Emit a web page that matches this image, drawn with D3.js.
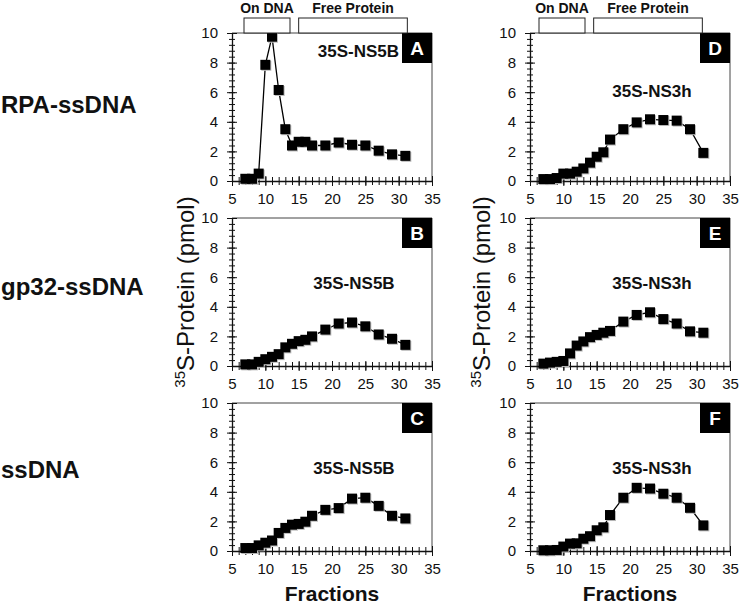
<!DOCTYPE html>
<html>
<head>
<meta charset="utf-8">
<script src="https://cdn.jsdelivr.net/npm/d3@7"></script>
<style>
body { margin: 0; background: #fff; }
text { font-family: "Liberation Sans", Arial, sans-serif; fill: #111; }
</style>
</head>
<body>
<svg id="chart" width="742" height="606"></svg>
<script>
// fractions collected
var fractions = [7, 8, 9, 10, 11, 12, 13, 14, 15, 16, 17, 19, 21, 23, 25, 27, 29, 31];

// 35S protein (pmol) per fraction
var ns5bRPA  = [0.15, 0.15, 0.5, 7.85, 9.75, 6.15, 3.5, 2.4, 2.65, 2.65, 2.4, 2.4, 2.6, 2.45, 2.4, 2.05, 1.8, 1.7];
var ns5bGp32 = [0.11, 0.11, 0.28, 0.46, 0.62, 0.8, 1.26, 1.5, 1.68, 1.77, 2.0, 2.46, 2.87, 2.94, 2.68, 2.13, 1.84, 1.43];
var ns5bSs   = [0.2, 0.2, 0.38, 0.56, 0.71, 1.22, 1.56, 1.78, 1.83, 1.98, 2.38, 2.78, 2.9, 3.54, 3.6, 3.05, 2.38, 2.2];
var ns3hRPA  = [0.13, 0.13, 0.2, 0.5, 0.5, 0.63, 0.85, 1.24, 1.64, 1.94, 2.8, 3.5, 3.96, 4.17, 4.12, 4.08, 3.5, 1.9];
var ns3hGp32 = [0.16, 0.23, 0.28, 0.34, 0.85, 1.38, 1.66, 1.95, 2.1, 2.25, 2.37, 3.0, 3.45, 3.63, 3.17, 2.87, 2.34, 2.25];
var ns3hSs   = [0.05, 0.05, 0.07, 0.3, 0.5, 0.52, 0.83, 1.0, 1.4, 1.6, 2.43, 3.6, 4.27, 4.22, 3.87, 3.6, 2.92, 1.73];

// tick labels
var xTicks = [5, 10, 15, 20, 25, 30, 35];
var yTicks = [0, 2, 4, 6, 8, 10];

// header bars (in fraction units)
var headerNames = ["On DNA", "Free Protein"];
var headerSpans = [[6.8, 13.7], [15.0, 31.3]];

var rowNames = ["RPA-ssDNA", "gp32-ssDNA", "ssDNA"];

var panels = [
  {letter: "A", name: "35S-NS5B", values: ns5bRPA,  col: 0, row: 0},
  {letter: "B", name: "35S-NS5B", values: ns5bGp32, col: 0, row: 1},
  {letter: "C", name: "35S-NS5B", values: ns5bSs,   col: 0, row: 2},
  {letter: "D", name: "35S-NS3h", values: ns3hRPA,  col: 1, row: 0},
  {letter: "E", name: "35S-NS3h", values: ns3hGp32, col: 1, row: 1},
  {letter: "F", name: "35S-NS3h", values: ns3hSs,   col: 1, row: 2}
];

// layout
var colX = [232, 530], rowY = [33, 218, 403];
var plotW = 200, plotH = 148;

var svg = d3.select("#chart");

// row labels on the far left
svg.selectAll(".rowlabel")
  .data(rowNames)
  .enter().append("text")
  .attr("class", "rowlabel")
  .attr("x", 1)
  .attr("y", function(d, i) { return [113, 295, 478][i]; })
  .style("font-size", "24px")
  .style("font-weight", "bold")
  .text(function(d) { return d; });

panels.forEach(function(p) {
  var left = colX[p.col], top = rowY[p.row];
  var g = svg.append("g").attr("transform", "translate(" + left + "," + top + ")");

  var x = d3.scaleLinear().domain([5, 35]).range([0, plotW]);
  var y = d3.scaleLinear().domain([0, 10]).range([plotH, 0]);

  // frame top + right
  g.append("path")
    .attr("d", "M0,0H" + plotW + "V" + plotH)
    .attr("fill", "none")
    .attr("stroke", "#444")
    .attr("stroke-width", 1);

  // minor ticks
  var yMinor = g.append("g")
    .call(d3.axisLeft(y).tickValues(d3.range(0, 10.01, 0.4)).tickSize(3).tickSizeOuter(0).tickFormat(""));
  yMinor.selectAll(".tick line").attr("x1", 3);
  yMinor.select(".domain").remove();

  var xMinor = g.append("g")
    .attr("transform", "translate(0," + plotH + ")")
    .call(d3.axisBottom(x).tickValues(d3.range(5, 35.01, 1)).tickSize(4).tickSizeOuter(0).tickFormat(""));
  xMinor.selectAll(".tick line").attr("y1", -4);
  xMinor.select(".domain").remove();

  // major ticks + labels
  var yAxis = g.append("g")
    .call(d3.axisLeft(y).tickValues(yTicks).tickSize(5).tickSizeOuter(0).tickPadding(9));
  yAxis.selectAll(".tick line").attr("x1", 5);
  yAxis.selectAll("text").style("font-size", "15px").attr("fill", "#111");

  var xAxis = g.append("g")
    .attr("transform", "translate(0," + plotH + ")")
    .call(d3.axisBottom(x).tickValues(xTicks).tickSize(5).tickSizeOuter(0).tickPadding(7));
  xAxis.selectAll(".tick line").attr("y1", -5);
  xAxis.selectAll("text").style("font-size", "15px").attr("fill", "#111");

  g.selectAll(".domain").attr("stroke", "#111").attr("stroke-width", 1.3);
  g.selectAll(".tick line").attr("stroke", "#111");

  // data line
  var pts = fractions.map(function(f, i) { return {f: f, v: p.values[i]}; });
  var line = d3.line()
    .x(function(d) { return x(d.f); })
    .y(function(d) { return y(d.v); });

  g.append("path")
    .datum(pts)
    .attr("fill", "none")
    .attr("stroke", "#000")
    .attr("stroke-width", 1.3)
    .attr("d", line);

  // square markers with soft shadow
  g.selectAll(".shadow")
    .data(pts)
    .enter().append("rect")
    .attr("class", "shadow")
    .attr("x", function(d) { return x(d.f) - 4; })
    .attr("y", function(d) { return y(d.v) - 4; })
    .attr("width", 10).attr("height", 10)
    .attr("fill", "#bbb");

  g.selectAll(".dot")
    .data(pts)
    .enter().append("rect")
    .attr("class", "dot")
    .attr("x", function(d) { return x(d.f) - 5; })
    .attr("y", function(d) { return y(d.v) - 5; })
    .attr("width", 10).attr("height", 10)
    .attr("fill", "#000");

  // panel letter box
  g.append("rect")
    .attr("x", plotW - 30).attr("y", 0)
    .attr("width", 30).attr("height", 30)
    .attr("fill", "#000");
  g.append("text")
    .attr("x", plotW - 15).attr("y", 22)
    .attr("text-anchor", "middle")
    .style("font-size", "19px")
    .style("font-weight", "bold")
    .style("fill", "#fff")
    .text(p.letter);

  // series name
  var nameText = g.append("text")
    .style("font-size", "17px")
    .style("font-weight", "bold")
    .text(p.name);
  if (p.letter == "A") {
    nameText.attr("x", plotW - 33).attr("y", 24).attr("text-anchor", "end");
  } else {
    nameText.attr("x", 122).attr("y", p.letter == "D" ? 64 : 71).attr("text-anchor", "middle");
  }

  // header bars on top row
  if (p.row == 0) {
    headerSpans.forEach(function(s, i) {
      g.append("rect")
        .attr("x", x(s[0]) + (p.col == 1 ? -3 : 0))
        .attr("y", -15)
        .attr("width", x(s[1]) - x(s[0]))
        .attr("height", 15)
        .attr("fill", "#fff")
        .attr("stroke", "#222")
        .attr("stroke-width", 1);
      g.append("text")
        .attr("x", (x(s[0]) + x(s[1])) / 2 + (p.col == 1 ? -3 : 0))
        .attr("y", -20)
        .attr("text-anchor", "middle")
        .style("font-size", "14px")
        .style("font-weight", "bold")
        .text(headerNames[i]);
    });
  }

  // x title under bottom row
  if (p.row == 2) {
    g.append("text")
      .attr("x", plotW / 2)
      .attr("y", 198)
      .attr("text-anchor", "middle")
      .style("font-size", "21px")
      .style("font-weight", "bold")
      .text("Fractions");
  }
});

// y titles
[[194, 292], [490, 292]].forEach(function(pos) {
  var t = svg.append("text")
    .attr("transform", "translate(" + pos[0] + "," + pos[1] + ") rotate(-90)")
    .attr("text-anchor", "middle")
    .style("font-size", "24px");
  t.append("tspan").attr("dy", -9).style("font-size", "15px").text("35");
  t.append("tspan").attr("dy", 9).text("S-Protein (pmol)");
});
</script>
</body>
</html>
